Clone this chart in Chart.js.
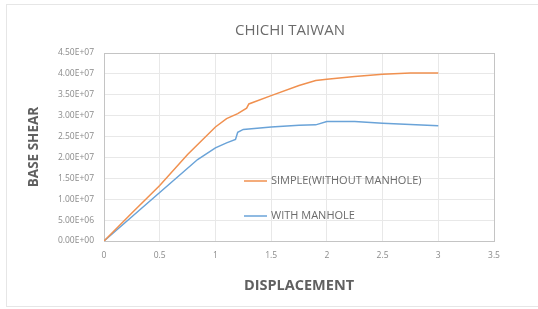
<!DOCTYPE html>
<html>
<head>
<meta charset="utf-8">
<script src="https://cdn.jsdelivr.net/npm/chart.js@4/dist/chart.umd.min.js"></script>
<style>
  body { margin: 0; background: #fff; }
  #wrap { width: 538px; height: 309px; }
</style>
</head>
<body>
<div id="wrap"><canvas id="chart" width="538" height="309"></canvas></div>
<script>
  // Donnees
  const displacement = [0, 0.25, 0.5, 0.75, 1, 1.1, 1.2, 1.28, 1.3, 1.5, 1.75, 1.9, 2, 2.25, 2.5, 2.75, 3];
  const simpleShear = [0, 6.7e6, 13.3e6, 20.7e6, 27.3e6, 29.3e6, 30.5e6, 31.8e6, 32.8e6, 34.8e6, 37.2e6, 38.4e6, 38.7e6, 39.4e6, 39.9e6, 40.2e6, 40.2e6];

  const manholeDisp = [0, 0.25, 0.5, 0.84, 1, 1.1, 1.18, 1.2, 1.25, 1.5, 1.75, 1.9, 2, 2.25, 2.5, 3];
  const manholeShear = [0, 5.8e6, 11.6e6, 19.5e6, 22.3e6, 23.5e6, 24.3e6, 26.0e6, 26.7e6, 27.3e6, 27.7e6, 27.8e6, 28.6e6, 28.6e6, 28.2e6, 27.6e6];

  const seriesNames = ["SIMPLE(WITHOUT MANHOLE)", "WITH MANHOLE"];
  const seriesColors = ["#F0904F", "#6AA3D8"];
  const chartTitle = "CHICHI TAIWAN";

  const toPoints = (xs, ys) => xs.map((x, i) => ({ x: x, y: ys[i] }));

  // fond blanc + cadre exterieur + titre
  const background = {
    id: "background",
    beforeDraw(chart) {
      const ctx = chart.ctx;
      ctx.save();
      ctx.fillStyle = "#fff";
      ctx.fillRect(0, 0, chart.width, chart.height);
      ctx.strokeStyle = "#e6e6e6";
      ctx.lineWidth = 1;
      ctx.strokeRect(6.5, 4.5, 540, 302);
      ctx.fillStyle = "#6b6b6b";
      ctx.font = "15px 'Open Sans', sans-serif";
      ctx.textAlign = "center";
      ctx.textBaseline = "middle";
      ctx.fillText(chartTitle, 290, 31);
      ctx.restore();
    }
  };

  // legende dessinee dans la zone du graphique
  const innerLegend = {
    id: "innerLegend",
    afterDraw(chart) {
      const ctx = chart.ctx;
      const rows = [181, 216];
      ctx.save();
      ctx.font = "11px 'Open Sans', sans-serif";
      ctx.textBaseline = "middle";
      chart.data.datasets.forEach((ds, i) => {
        ctx.strokeStyle = ds.borderColor;
        ctx.lineWidth = 1.5;
        ctx.beginPath();
        ctx.moveTo(244, rows[i]);
        ctx.lineTo(267, rows[i]);
        ctx.stroke();
        ctx.fillStyle = "#6b6b6b";
        ctx.fillText(ds.label, 271, rows[i]);
      });
      ctx.restore();
    }
  };

  const ctx = document.getElementById("chart").getContext("2d");
  new Chart(ctx, {
    type: "scatter",
    data: {
      datasets: [
        {
          label: seriesNames[0],
          data: toPoints(displacement, simpleShear),
          showLine: true,
          borderColor: seriesColors[0],
          borderWidth: 1.5,
          pointRadius: 0,
          tension: 0
        },
        {
          label: seriesNames[1],
          data: toPoints(manholeDisp, manholeShear),
          showLine: true,
          borderColor: seriesColors[1],
          borderWidth: 1.5,
          pointRadius: 0,
          tension: 0
        }
      ]
    },
    options: {
      responsive: false,
      animation: false,
      layout: { padding: { left: 22, right: 44, top: 53, bottom: 0 } },
      plugins: {
        legend: { display: false },
        tooltip: { enabled: false },
        title: { display: false }
      },
      scales: {
        x: {
          type: "linear",
          min: 0,
          max: 3.5,
          ticks: {
            stepSize: 0.5,
            color: "#8a8a8a",
            font: { family: "'Open Sans', sans-serif", size: 8.5 },
            padding: 9,
            callback: v => String(Number(v))
          },
          grid: { color: "#e8e8e8", drawTicks: false },
          border: { color: "#c4c4c4" },
          title: {
            display: true,
            text: "DISPLACEMENT",
            color: "#606060",
            font: { family: "'Open Sans', sans-serif", size: 14.5, weight: "bold" },
            padding: { top: 2, bottom: 14 }
          },
          afterFit(scale) { scale.height = 68; }
        },
        y: {
          min: 0,
          max: 4.5e7,
          ticks: {
            stepSize: 5e6,
            color: "#8a8a8a",
            font: { family: "'Open Sans', sans-serif", size: 8.5 },
            padding: 10,
            callback: v => Number(v).toExponential(2).toUpperCase().replace(/E\+?(-?)(\d)$/, "E+$10$2").replace("E+-", "E-")
          },
          grid: { color: "#e8e8e8", drawTicks: false },
          border: { color: "#c4c4c4" },
          title: {
            display: true,
            text: "BASE SHEAR",
            color: "#606060",
            font: { family: "'Open Sans', sans-serif", size: 13.5, weight: "bold" },
            padding: { bottom: 4 }
          },
          afterFit(scale) { scale.width = 82; }
        },
        x2: {
          type: "linear",
          position: "top",
          display: true,
          min: 0,
          max: 3.5,
          ticks: { display: false },
          grid: { display: false },
          border: { color: "#c4c4c4" },
          afterFit(scale) { scale.height = 0; }
        },
        y2: {
          position: "right",
          display: true,
          min: 0,
          max: 4.5e7,
          ticks: { display: false },
          grid: { display: false },
          border: { color: "#c4c4c4" },
          afterFit(scale) { scale.width = 0; }
        }
      }
    },
    plugins: [background, innerLegend]
  });
</script>
</body>
</html>
